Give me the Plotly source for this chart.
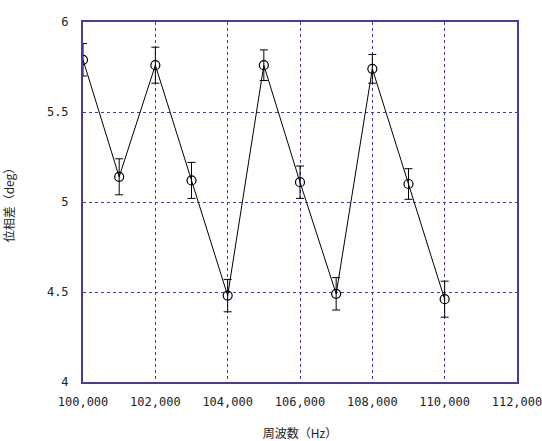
import plotly.graph_objects as go

freq = [100000, 101000, 102000, 103000, 104000, 105000, 106000, 107000, 108000, 109000, 110000]
phase = [5.79, 5.14, 5.76, 5.12, 4.48, 5.76, 5.11, 4.49, 5.74, 5.10, 4.46]
err = [0.09, 0.10, 0.10, 0.10, 0.09, 0.085, 0.09, 0.09, 0.08, 0.085, 0.10]

x_ticks = [100000, 102000, 104000, 106000, 108000, 110000, 112000]
x_labels = ["100,000", "102,000", "104,000", "106,000", "108,000", "110,000", "112,000"]
y_ticks = [4, 4.5, 5, 5.5, 6]
y_labels = ["4", "4.5", "5", "5.5", "6"]

fig = go.Figure()
fig.add_trace(go.Scatter(
    x=freq, y=phase,
    mode="lines+markers",
    line=dict(color="black", width=1),
    marker=dict(symbol="circle-open", size=9, color="black", line=dict(width=1.2)),
    error_y=dict(type="data", array=err, visible=True, color="black", thickness=1, width=4),
    showlegend=False,
))

axis_common = dict(
    showline=True, linecolor="#4a3a9a", linewidth=2, mirror=True,
    showgrid=True, gridcolor="#3c3ca8", gridwidth=1, griddash="dot",
    zeroline=False, ticks="", automargin=False,
    ticklabeloverflow="allow",
    tickfont=dict(family="DejaVu Sans Mono", size=12, color="#222222"),
)

fig.update_layout(
    width=542, height=441,
    margin=dict(l=83, r=25, t=22, b=59),
    paper_bgcolor="white", plot_bgcolor="white",
    xaxis=dict(range=[99999.5, 112000.5], tickvals=x_ticks, ticktext=x_labels,
               ticklabelstandoff=8,
               title=dict(text="周波数（Hz）", font=dict(family="Noto Sans CJK JP", size=12, color="#222222"), standoff=28),
               **axis_common),
    yaxis=dict(range=[4, 6], tickvals=y_ticks, ticktext=y_labels,
               ticklabelstandoff=10,
               title=dict(text="位相差（deg）", font=dict(family="Noto Sans CJK JP", size=12, color="#222222"), standoff=30),
               **axis_common),
)

fig.write_html("out.html")
